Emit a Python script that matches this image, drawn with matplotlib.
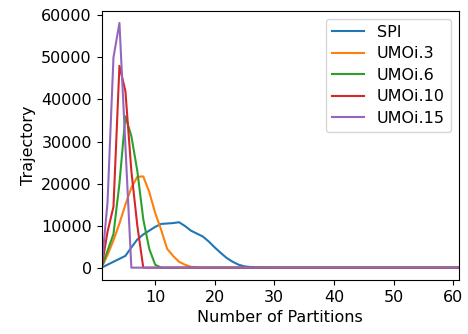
import matplotlib
matplotlib.use('Agg')
import matplotlib.pyplot as plt
import numpy as np

# partition counts 1..61
partitions = np.arange(1, 62)

# trajectory counts per number of partitions (non-zero head, rest zero)
spi_head = [0, 700, 1400, 2100, 2800, 4800, 6700, 7900, 8800, 9700,
            10400, 10500, 10600, 10800, 9900, 8800, 8100, 7400, 6200, 4800,
            3500, 2300, 1400, 700, 300, 150, 80, 40, 20]
umoi3_head = [0, 3000, 6500, 10500, 15000, 19000, 21600, 21700, 18000, 13000,
              9000, 4500, 2800, 1400, 700, 200, 50]
umoi6_head = [0, 4000, 8000, 20000, 36000, 31300, 23000, 11500, 4500, 700]
umoi10_head = [0, 8500, 14500, 48000, 42000, 23000, 10000]
umoi15_head = [0, 15500, 50000, 58200, 29000]


def pad(head, n=len(partitions)):
    vals = np.zeros(n)
    vals[:len(head)] = head
    return vals


series = [("SPI", spi_head), ("UMOi.3", umoi3_head), ("UMOi.6", umoi6_head),
          ("UMOi.10", umoi10_head), ("UMOi.15", umoi15_head)]

plt.rcParams['font.size'] = 11.5

fig = plt.figure(figsize=(4.68, 3.34), dpi=100)
ax = fig.add_axes([0.217, 0.162, 0.764, 0.806])

for label, head in series:
    ax.plot(partitions, pad(head), label=label)

ax.set_xlim(1, 61)
ax.set_xticks([10, 20, 30, 40, 50, 60])
ax.set_xlabel("Number of Partitions")
ax.set_ylabel("Trajectory")
ax.legend(loc='upper right', labelspacing=0.4)

fig.savefig('out.png', dpi=100)
